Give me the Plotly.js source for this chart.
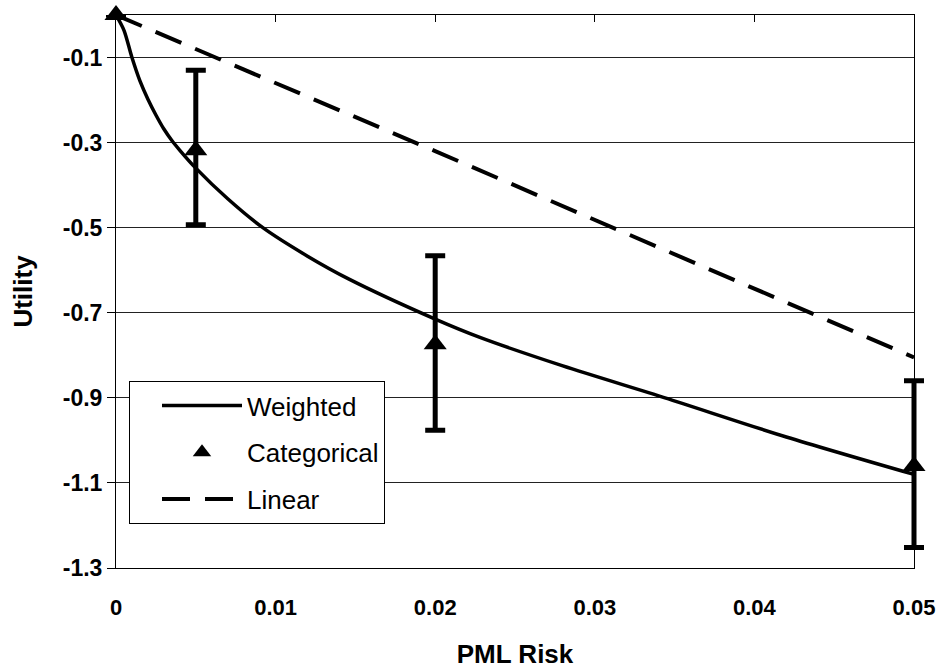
<!DOCTYPE html>
<html>
<head>
<meta charset="utf-8">
<script src="https://cdn.plot.ly/plotly-3.0.1.min.js"></script>
<style>html,body{margin:0;padding:0;background:#fff;}#chart{width:940px;height:671px;}</style>
</head>
<body>
<div id="chart"></div>
<script>
// Weighted utility curve
const weightedX = [0, 0.0005, 0.001, 0.0015, 0.002, 0.0025, 0.003, 0.0035, 0.004, 0.005, 0.007, 0.0092, 0.012, 0.0146, 0.02, 0.0228, 0.028, 0.0344, 0.042, 0.05];
const weightedY = [0, -0.036, -0.10, -0.155, -0.198, -0.235, -0.268, -0.295, -0.318, -0.36, -0.432, -0.50, -0.567, -0.621, -0.715, -0.758, -0.825, -0.90, -0.992, -1.08];

// Categorical points with error bars
const catX = [0, 0.005, 0.02, 0.05];
const catY = [0, -0.318, -0.774, -1.06];
const catErrPlus = [null, 0.188, 0.208, 0.20];
const catErrMinus = [null, 0.175, 0.202, 0.192];

// Linear utility
const linX = [0, 0.005, 0.02, 0.05];
const linY = [0, -0.08, -0.32, -0.805];

// Axis ticks
const xTicks = [0, 0.01, 0.02, 0.03, 0.04, 0.05];
const xTickText = ['0', '0.01', '0.02', '0.03', '0.04', '0.05'];
const yTicks = [-1.3, -1.1, -0.9, -0.7, -0.5, -0.3, -0.1];
const yTickText = ['-1.3', '-1.1', '-0.9', '-0.7', '-0.5', '-0.3', '-0.1'];

const FONT = 'Liberation Sans, Arial, Helvetica, sans-serif';

// plot area geometry: paper area 818px wide, main x domain inset by 10px each side
const PAD = 10, PW = 818;
const xSpan = 0.05;
const xPad = xSpan * PAD / (PW - 2 * PAD);

const traces = [
  {
    x: weightedX, y: weightedY, name: 'Weighted', type: 'scatter', mode: 'lines',
    line: {color: '#000', width: 3.5, shape: 'spline', smoothing: 0.8},
    legendgroup: 'a', cliponaxis: false
  },
  {
    x: catX, y: catY, name: 'Categorical', type: 'scatter', mode: 'markers',
    xaxis: 'x3', yaxis: 'y2',
    marker: {symbol: 'triangle-up', size: 20, color: '#000'},
    error_y: {type: 'data', symmetric: false, array: catErrPlus, arrayminus: catErrMinus,
              color: '#000', thickness: 5, width: 10},
    legendgroup: 'b', cliponaxis: false
  },
  {
    x: linX, y: linY, name: 'Linear', type: 'scatter', mode: 'lines',
    line: {color: '#000', width: 4, dash: '28px,15px'},
    legendgroup: 'c', cliponaxis: false
  },
  // invisible trace to activate the top tick axis
  {x: [0], y: [0], xaxis: 'x2', yaxis: 'y', mode: 'markers',
   marker: {opacity: 0}, showlegend: false, hoverinfo: 'skip'}
];

const layout = {
  width: 940, height: 671,
  margin: {l: 106, r: 16, t: 15, b: 103},
  paper_bgcolor: '#fff', plot_bgcolor: 'rgba(0,0,0,0)',
  font: {family: FONT, color: '#000'},
  showlegend: true,
  legend: {
    x: (129 - 106) / PW, y: 0.0796, xanchor: 'left', yanchor: 'bottom',
    bgcolor: '#fff', bordercolor: '#000', borderwidth: 1,
    font: {family: FONT, size: 26, color: '#000'},
    itemwidth: 80, tracegroupgap: 10, traceorder: 'grouped', indentation: 27
  },
  xaxis: {
    domain: [PAD / PW, 1 - PAD / PW],
    range: [0, 0.05], tickvals: xTicks, ticktext: xTickText,
    ticks: '', showgrid: false, zeroline: false,
    showline: true, linecolor: '#000', linewidth: 1, mirror: true,
    tickfont: {family: FONT, size: 22, weight: 'bold'},
    ticklabelstandoff: 20,
    title: {text: 'PML Risk', font: {family: FONT, size: 26, weight: 'bold'}, standoff: 25}
  },
  xaxis2: {
    matches: 'x', overlaying: 'x', side: 'top', anchor: 'y',
    range: [0, 0.05], tickvals: xTicks, ticks: 'inside', ticklen: 7, tickcolor: '#000',
    showticklabels: false, showgrid: false, zeroline: false, showline: false
  },
  xaxis3: {
    domain: [0, 1], anchor: 'y2', range: [-xPad, 0.05 + xPad], visible: false
  },
  yaxis: {
    anchor: 'x',
    range: [-1.3, 0], tickvals: yTicks, ticktext: yTickText,
    ticks: 'outside', ticklen: 8, tickcolor: '#000',
    showgrid: true, gridcolor: '#222', gridwidth: 1, zeroline: false,
    showline: true, linecolor: '#000', linewidth: 1, mirror: true,
    tickfont: {family: FONT, size: 23, weight: 'bold'},
    title: {text: 'Utility', font: {family: FONT, size: 26, weight: 'bold'}, standoff: 22}
  },
  yaxis2: {
    domain: [0, 1], anchor: 'x3', range: [-1.3, 0], visible: false
  }
};

Plotly.newPlot('chart', traces, layout, {staticPlot: true});
</script>
</body>
</html>
